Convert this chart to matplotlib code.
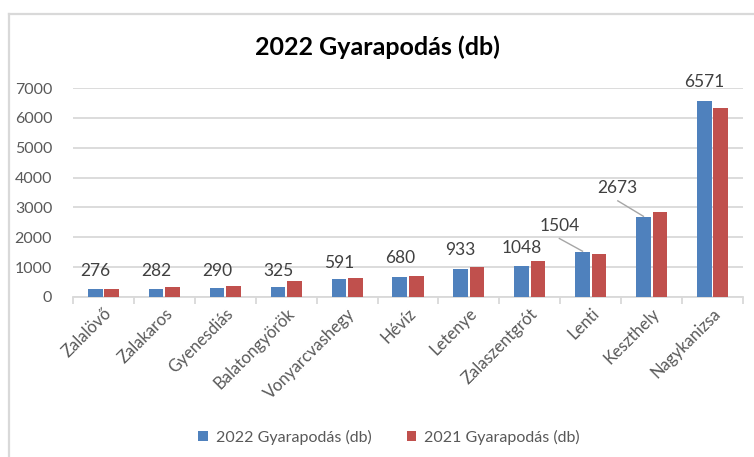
import matplotlib
matplotlib.use('Agg')
import matplotlib.pyplot as plt
import numpy as np

# telepulesek es ertekek
telepulesek = ['Zalalövő', 'Zalakaros', 'Gyenesdiás', 'Balatongyörök', 'Vonyarcvashegy',
               'Hévíz', 'Letenye', 'Zalaszentgrót', 'Lenti', 'Keszthely', 'Nagykanizsa']
gy2022 = [276, 282, 290, 325, 591, 680, 933, 1048, 1504, 2673, 6571]
gy2021 = [265, 335, 380, 545, 620, 700, 1000, 1200, 1430, 2850, 6330]

# cimkek helye (Excel-ben kezzel elhuzva)
cimke_y = [875, 875, 875, 875, 1150, 1320, 1560, 1650, 2380, 3640, 7200]
cimke_dx = [0, 0, 0, 0, 0, 0, 0, 0, -0.38, -0.42, 0]

plt.rcParams['font.family'] = ['Lato', 'DejaVu Sans']
szurke = '#595959'
kek = '#4f81bd'
piros = '#c0504d'

fig = plt.figure(figsize=(7.54, 4.57), dpi=100)
ax = fig.add_axes([73/754, 1 - 297/457, 670/754, 209/457])

x = np.arange(len(telepulesek))
w = 0.24
ax.bar(x - 0.135, gy2022, w, color=kek, label='2022 Gyarapodás (db)', zorder=3)
ax.bar(x + 0.135, gy2021, w, color=piros, label='2021 Gyarapodás (db)', zorder=3)

for i, v in enumerate(gy2022):
    bx = x[i] - 0.135
    tx = bx + cimke_dx[i]
    ax.text(tx, cimke_y[i], str(v), ha='center', va='center', fontsize=12.5, color='#404040', zorder=4)
    if cimke_dx[i] != 0:
        ax.plot([tx, bx], [cimke_y[i] - 420, v + 30], color='#a6a6a6', lw=1, zorder=4)

ax.set_xlim(-0.5, len(telepulesek) - 0.5)
ax.set_ylim(0, 7000)
ax.set_yticks(range(0, 7001, 1000))
ax.yaxis.grid(True, color='#d9d9d9', lw=1.3)
ax.set_axisbelow(True)
ax.tick_params(axis='y', length=0, pad=15, labelsize=11.5, labelcolor=szurke)

ax.set_xticks(x)
ax.set_xticklabels(telepulesek, rotation=45, ha='right', rotation_mode='anchor',
                   fontsize=12, color=szurke)
ax.tick_params(axis='x', length=0, pad=6)
ax.set_xticks(np.arange(-0.5, len(telepulesek)), minor=True)
ax.tick_params(axis='x', which='minor', length=5, color='#d9d9d9', width=1.3)

for s in ['top', 'right', 'left']:
    ax.spines[s].set_visible(False)
ax.spines['bottom'].set_color('#d9d9d9')
ax.spines['bottom'].set_linewidth(1.3)

fig.text(0.5, 1 - 47/457, '2022 Gyarapodás (db)', ha='center', va='center',
         fontsize=18, fontweight='bold', color='black')

fig.legend(loc='center', bbox_to_anchor=(389/754, 1 - 437/457), ncol=2, frameon=False,
           fontsize=11.5, labelcolor=szurke, handlelength=0.6, handleheight=0.6,
           columnspacing=2.2, handletextpad=0.5)

# kulso keret
fig.add_artist(plt.Line2D([9/754, 9/754], [0, 1 - 14/457], transform=fig.transFigure,
                          color='#d9d9d9', lw=1.6))
fig.add_artist(plt.Line2D([9/754, 1], [1 - 14/457, 1 - 14/457], transform=fig.transFigure,
                          color='#d9d9d9', lw=1.6))

plt.savefig('out.png', format='png', dpi=100)
plt.close()
